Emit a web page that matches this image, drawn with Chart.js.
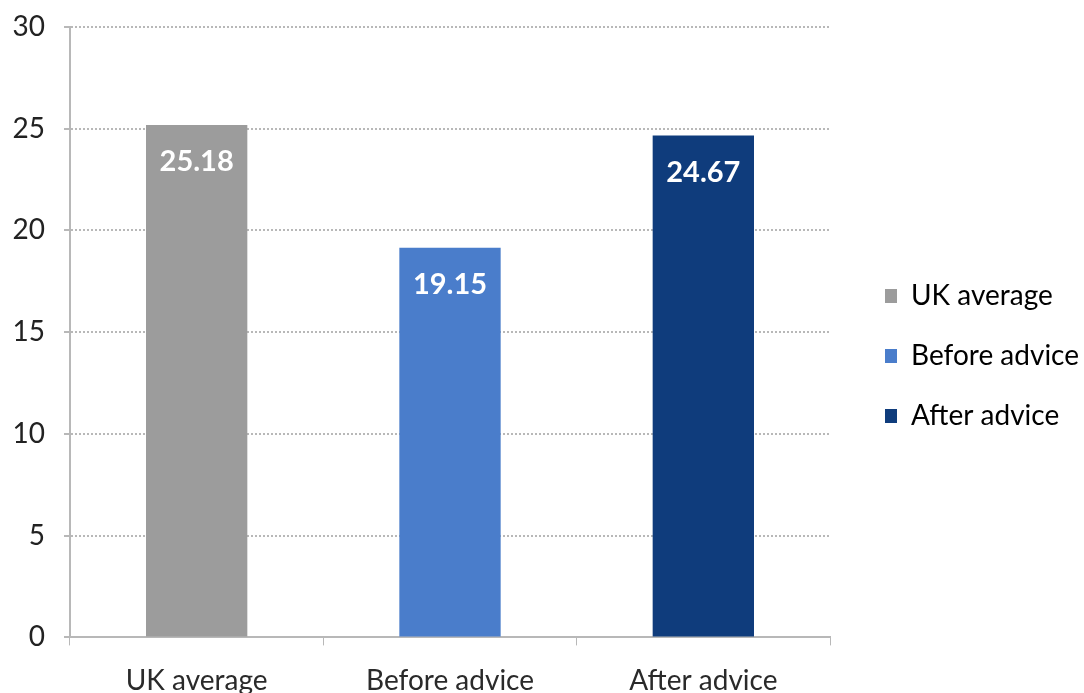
<!DOCTYPE html>
<html>
<head>
<meta charset="utf-8">
<script src="https://cdn.jsdelivr.net/npm/chart.js@4.4.0/dist/chart.umd.min.js"></script>
<style>
  html, body { margin: 0; padding: 0; background: #fff; overflow: hidden; }
  #wrap { width: 1084px; height: 717px; }
</style>
</head>
<body>
<div id="wrap"><canvas id="chart"></canvas></div>
<script>
// 数据
const categories = ['UK average', 'Before advice', 'After advice'];
const values = [25.18, 19.15, 24.67];
const barColors = ['#9c9c9c', '#4a7dcb', '#0f3c7c'];
const yTicks = [0, 5, 10, 15, 20, 25, 30];

const FONT = 'Lato, "Open Sans", sans-serif';

// 柱内数值标签
const valueLabels = {
    id: 'valueLabels',
    afterDatasetsDraw(chart) {
        const ctx = chart.ctx;
        const meta = chart.getDatasetMeta(0);
        ctx.save();
        ctx.fillStyle = '#ffffff';
        ctx.font = 'bold 29px ' + FONT;
        ctx.textAlign = 'center';
        ctx.textBaseline = 'middle';
        meta.data.forEach((bar, i) => {
            ctx.fillText(values[i].toFixed(2), bar.x, bar.y + 37);
        });
        ctx.restore();
    }
};

// 图例加宽并右移
const legendSpace = {
    id: 'legendSpace',
    afterInit(chart) {
        const lg = chart.legend;
        const fit = lg.fit;
        lg.fit = function () {
            fit.call(this);
            this.width += 16;
        };
    },
    afterLayout(chart) {
        chart.legend.left += 23;
        chart.legend.top -= 16;
        chart.legend.bottom -= 16;
    }
};

new Chart(document.getElementById('chart'), {
    type: 'bar',
    data: {
        labels: categories,
        datasets: [{
            data: values,
            backgroundColor: barColors,
            borderWidth: 0,
            categoryPercentage: 0.8,
            barPercentage: 0.5
        }]
    },
    options: {
        responsive: true,
        maintainAspectRatio: false,
        animation: false,
        layout: { padding: { top: 27, left: 0, right: 2, bottom: 0 } },
        plugins: {
            legend: {
                position: 'right',
                align: 'center',
                labels: {
                    font: { family: FONT, size: 28 },
                    color: '#2a2a2a',
                    boxWidth: 12,
                    boxHeight: 14,
                    padding: 32,
                    generateLabels(chart) {
                        return categories.map((c, i) => ({
                            text: c,
                            fillStyle: barColors[i],
                            strokeStyle: barColors[i],
                            lineWidth: 0,
                            index: i
                        }));
                    }
                }
            },
            tooltip: { enabled: false }
        },
        scales: {
            y: {
                min: 0,
                max: 30,
                afterBuildTicks(axis) {
                    axis.ticks = yTicks.map(v => ({ value: v }));
                },
                afterFit(axis) {
                    axis.width = 70;
                    axis.paddingTop = 0;
                    axis.paddingBottom = 0;
                },
                ticks: {
                    font: { family: FONT, size: 28 },
                    color: '#222',
                    padding: 19
                },
                grid: {
                    color: '#b8b8b8',
                    lineWidth: 2,
                    tickLength: 6
                },
                border: { color: '#b8b8b8', width: 2, dash: [2, 2] }
            },
            x: {
                ticks: {
                    font: { family: FONT, size: 28 },
                    color: '#2a2a2a',
                    padding: 19
                },
                grid: {
                    display: true,
                    drawOnChartArea: false,
                    offset: true,
                    color: '#b8b8b8',
                    tickLength: 8
                },
                border: { color: '#b8b8b8', width: 2 }
            }
        }
    },
    plugins: [valueLabels, legendSpace]
});
</script>
</body>
</html>
